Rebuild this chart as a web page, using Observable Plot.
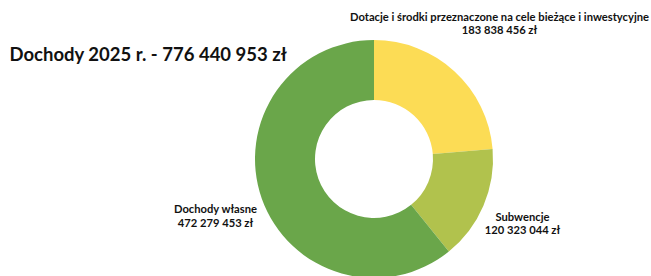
<!DOCTYPE html>
<html>
<head>
<meta charset="utf-8">
<script src="https://cdn.jsdelivr.net/npm/d3@7"></script>
<script src="https://cdn.jsdelivr.net/npm/@observablehq/plot@0.6"></script>
<style>
  html, body { margin: 0; padding: 0; background: #fff; }
  #chart { width: 651px; height: 276px; overflow: hidden; }
</style>
</head>
<body>
<div id="chart"></div>
<script>
const title = "Dochody 2025 r. - 776 440 953 zł";
const categories = ["Dotacje i środki przeznaczone na cele bieżące i inwestycyjne", "Subwencje", "Dochody własne"];
const values = [183838456, 120323044, 472279453];
const valueLabels = ["183 838 456 zł", "120 323 044 zł", "472 279 453 zł"];
const colors = ["#FCDC55", "#B1C24D", "#6AA64A"];

const W = 651, H = 276;
const cx = 374, cy = 159, outerR = 119, innerR = 59;

const pie = d3.pie().sort(null).value(d => d.value);
const slices = pie(categories.map((c, i) => ({name: c, value: values[i], label: valueLabels[i], color: colors[i]})));
const arc = d3.arc().innerRadius(innerR).outerRadius(outerR);

// label anchor placements (pixel frame)
const labelPos = [
  {x: 499, y1: 17, y2: 30},
  {x: 522, y1: 217, y2: 230},
  {x: 215, y1: 209, y2: 223}
];
const labelRows = [];
slices.forEach((s, i) => {
  labelRows.push({x: labelPos[i].x, y: labelPos[i].y1, text: s.data.name});
  labelRows.push({x: labelPos[i].x, y: labelPos[i].y2, text: s.data.label});
});

const donutMark = (index, scales, values, dims) => {
  const g = d3.create("svg:g").attr("transform", `translate(${cx},${cy})`);
  g.selectAll("path").data(slices).join("path")
    .attr("d", arc)
    .attr("fill", d => d.data.color);
  return g.node();
};

const chart = Plot.plot({
  width: W,
  height: H,
  margin: 0,
  x: {type: "identity", axis: null},
  y: {type: "identity", axis: null},
  style: {background: "#fff", fontFamily: "Lato, sans-serif"},
  marks: [
    donutMark,
    Plot.text(labelRows, {x: "x", y: "y", text: "text", fontSize: 11.2, fontWeight: "bold", fill: "#111", textAnchor: "middle"}),
    Plot.text([title], {x: () => 9, y: () => 55, text: d => d, fontSize: 18.5, fontWeight: "bold", fill: "#111", textAnchor: "start"})
  ]
});
document.getElementById("chart").appendChild(chart);
</script>
</body>
</html>
